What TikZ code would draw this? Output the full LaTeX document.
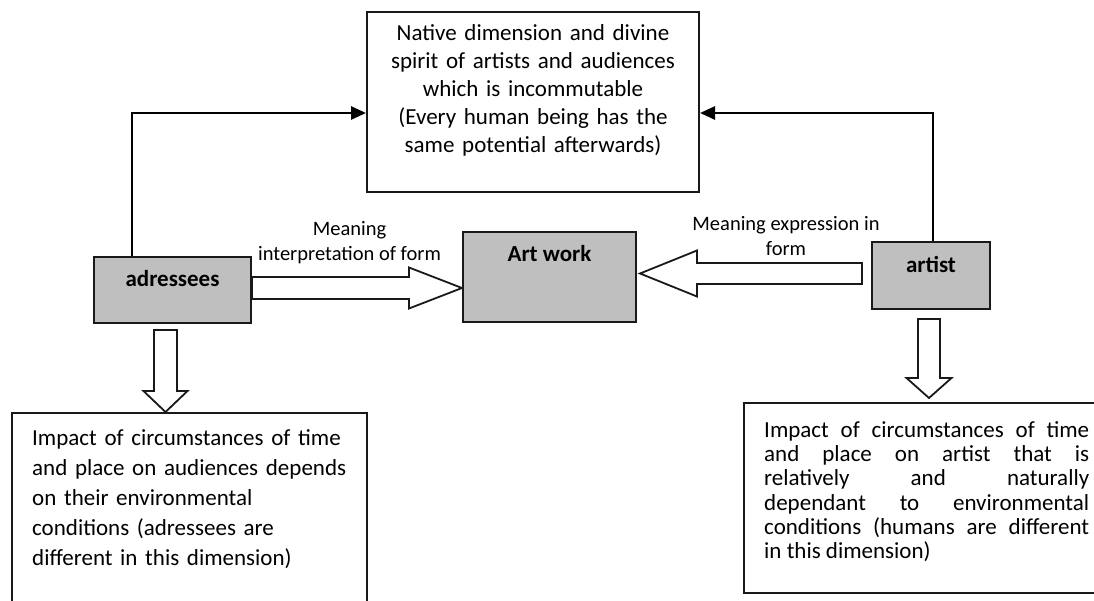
\documentclass[tikz,border=0pt]{standalone}
\usepackage{fontspec}
\setmainfont{Carlito}
\usetikzlibrary{positioning,calc,arrows.meta}
\definecolor{boxgray}{RGB}{191,191,191}
\newcommand{\blockarrow}[5]{%
  \coordinate (hb) at ($(#2)!#5!(#1)$);
  \draw[hollow] ($(#1)!#3!90:(#2)$) -- ($(hb)!#3!90:(#2)$)
    -- ($(hb)!#4!90:(#2)$) -- (#2) -- ($(hb)!#4!-90:(#2)$)
    -- ($(hb)!#3!-90:(#2)$) -- ($(#1)!#3!-90:(#2)$) -- cycle;}
\begin{document}
\begin{tikzpicture}
      [x=1pt,y=-1pt,
      box/.style={draw=black!90,line width=2pt,inner sep=0pt},
      graybox/.style={box,fill=boxgray},
      hollow/.style={draw=black!90,fill=white,line width=1.8pt,line join=miter},
      link/.style={line width=2.7pt,-{Triangle[length=15pt,width=13pt]}},
      boxtext/.style={inner sep=0pt,font=\fontsize{23}{28}\selectfont},
      boldtext/.style={inner sep=0pt,font=\fontsize{23}{28}\selectfont\bfseries},
      lbl/.style={inner sep=0pt,align=center,font=\fontsize{20.5}{25}\selectfont}]
      \useasboundingbox (0,0) rectangle (1094,601);
      \clip (0,0) rectangle (1094,601);
      \node[box,minimum width=332pt,minimum height=180pt] (top) at (533,102) {};
      \node[graybox,minimum width=157pt,minimum height=66pt] (adr) at (172.5,290) {};
      \node[graybox,minimum width=173pt,minimum height=90pt] (art) at (549.5,277) {};
      \node[graybox,minimum width=118pt,minimum height=67pt] (artist) at (931,275.5) {};
      \node[box,minimum width=355pt,minimum height=207pt] (leftbox) at (189.5,516.5) {};
      \node[box,minimum width=366pt,minimum height=190pt] (rightbox) at (927,498) {};
      \node[boxtext,below=13pt of top.north,text width=330pt,align=center] (topTxt)
      {Native dimension and divine\\spirit of artists and audiences\\which is incommutable\\(Every human being has the\\same potential afterwards)};
      \node[boldtext,below=14pt of adr.north] (adrTxt) {adressees};
      \node[boldtext,below=14pt of art.north] (artTxt) {Art work};
      \node[boldtext,below=15pt of artist.north] (artistTxt) {artist};
      \node[boxtext,below right=17pt and 21pt of leftbox.north west,text width=330pt,
      align=left,font=\fontsize{23}{30}\selectfont] (leftTxt)
      {Impact of circumstances of time\\and place on audiences depends\\on their environmental\\conditions (adressees are\\different in this dimension)};
      \node[boxtext,below right=19pt and 21pt of rightbox.north west,text width=325pt,
      align=justify,font=\fontsize{23}{24.3}\selectfont] (rightTxt)
      {\sloppy Impact of circumstances of time\linebreak and place on artist that is\linebreak
      relatively and naturally\linebreak dependant to environmental\linebreak
      conditions (humans are different\linebreak in this dimension)};
      \node[lbl] (interp) at (349.5,243) {Meaning\\interpretation of form};
      \node[lbl] (expr) at (786,236) {Meaning expression in\\form};
      \coordinate (adrUp) at ($(adr.north west)+(39,0)$);
      \coordinate (topInL) at ($(top.west)+(0,11)$);
      \coordinate (artistUp) at ($(artist.north)+(2,0)$);
      \coordinate (topInR) at ($(top.east)+(0,11)$);
      \draw[link] (adrUp) |- (topInL);
      \draw[link] (artistUp) |- (topInR);
      \coordinate (a1) at ($(adr.east)+(0,-2)$);
      \coordinate (b1) at (a1 -| art.west);
      \blockarrow{a1}{b1}{11pt}{20.5pt}{53pt}
      \coordinate (a2) at ($(artist.west)+(-9,-2)$);
      \coordinate (b2) at ($(a2 -| art.east)+(3,0)$);
      \blockarrow{a2}{b2}{10.5pt}{23pt}{57pt}
      \coordinate (a3) at ($(adr.south)+(-7,6)$);
      \coordinate (b3) at (a3 |- leftbox.north);
      \blockarrow{a3}{b3}{11.5pt}{22pt}{21pt}
      \coordinate (a4) at ($(artist.south)+(-2,9)$);
      \coordinate (b4) at ($(a4 |- rightbox.north)+(0,-4)$);
      \blockarrow{a4}{b4}{11pt}{22.5pt}{20pt}
\end{tikzpicture}
\end{document}
